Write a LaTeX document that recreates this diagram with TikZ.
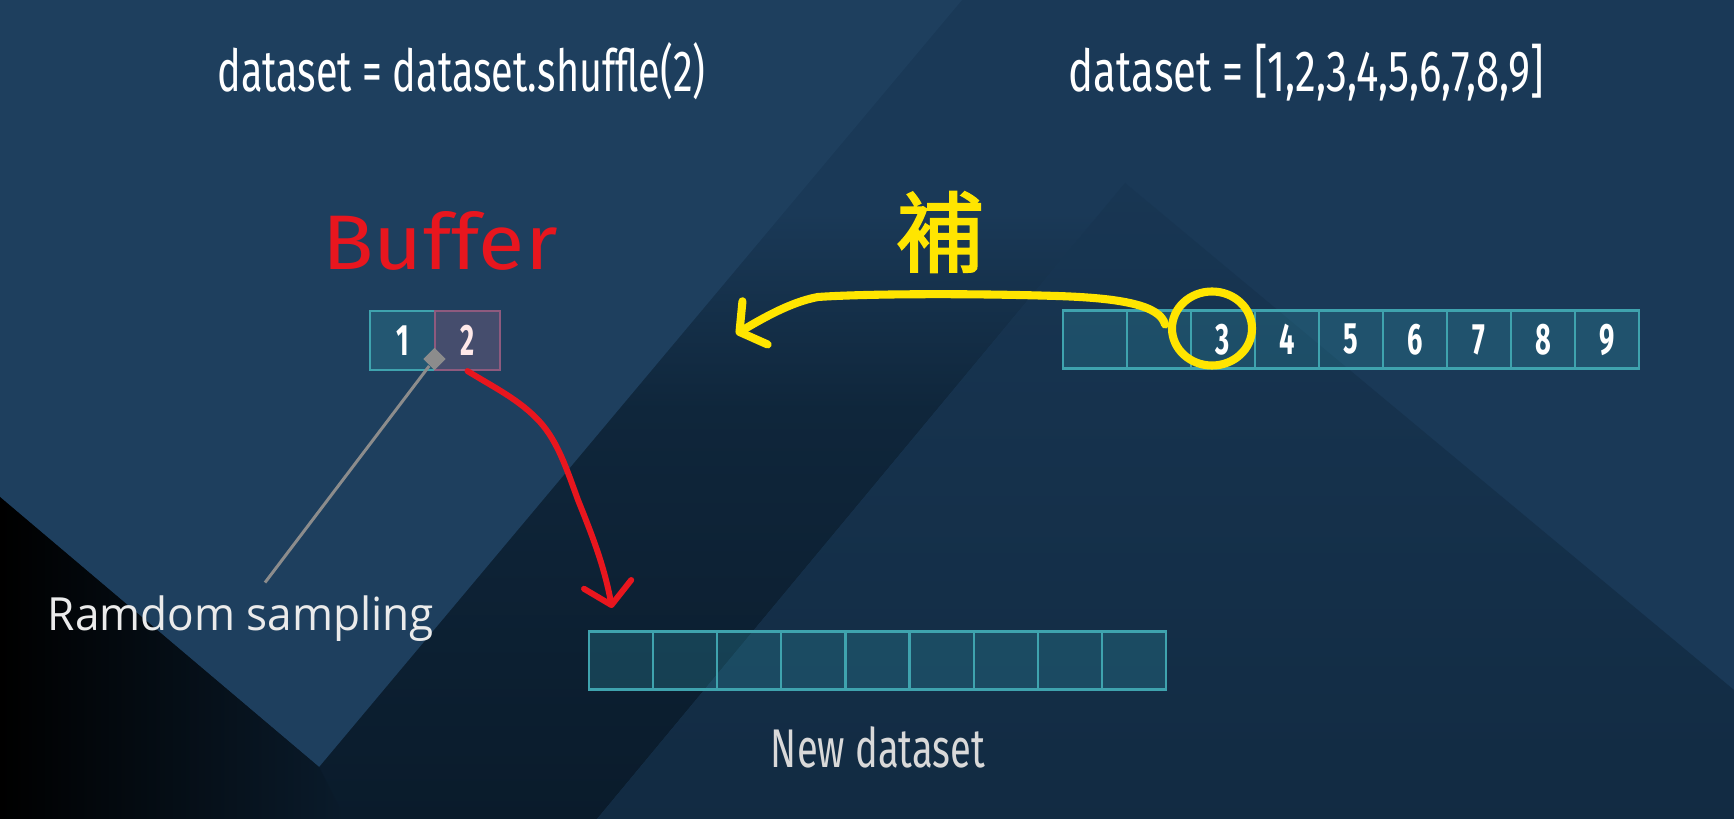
\documentclass[tikz,border=0pt]{standalone}
\usepackage{fontspec}
\setmainfont{Fira Sans}
\newfontfamily\notesfont{Open Sans}
\newfontfamily\cjkfont{Noto Sans CJK TC}[AutoFakeBold=2]
\usetikzlibrary{arrows.meta, shapes.geometric, calc}
\definecolor{paperbase}{HTML}{1A3957}
\definecolor{paperlight}{HTML}{1E3F5E}
\definecolor{paperdark}{HTML}{0F263B}
\definecolor{paperdeep}{HTML}{0A1B2B}
\definecolor{papermid}{HTML}{183653}
\definecolor{cellline}{HTML}{3FA3AE}
\definecolor{celltint}{HTML}{2F8FA3}
\definecolor{bufline}{HTML}{8E5A7E}
\definecolor{buftint}{HTML}{A07090}
\definecolor{penred}{HTML}{E8161E}
\definecolor{penyellow}{HTML}{FFE500}
\pgfdeclareverticalshading{bandfade}{100bp}{color(0bp)=(paperdeep); color(25bp)=(paperdeep);
  color(50bp)=(paperdark); color(62bp)=(paperbase); color(100bp)=(paperbase)}
\newcommand{\squeezeto}[2]{\resizebox{#1}{\height}{#2}}
\newcommand{\celldigit}[1]{\scalebox{0.62}[1]{#1}}
\tikzset{
  cell/.style={rectangle, draw=cellline, line width=0.6pt, fill=celltint, fill opacity=0.3,
               text opacity=1, minimum width=0.64cm, minimum height=0.58cm, inner sep=0pt,
               text=white, font=\fontsize{12.5}{13}\selectfont\bfseries},
  bufcell/.style={cell, minimum width=0.65cm, minimum height=0.59cm},
  pickcell/.style={bufcell, draw=bufline, fill=buftint, text=pink!35},
  codetxt/.style={text=white, font=\fontsize{16.5}{18}\selectfont, inner sep=0pt},
  lbl/.style={inner sep=0pt},
  pinmark/.style={diamond, fill=black!45, inner sep=0pt, minimum width=0.23cm, minimum height=0.23cm},
  pinline/.style={draw=black!45, line width=0.85pt},
  redpen/.style={draw=penred, line width=1.7pt, line cap=round, line join=round,
                 -{Straight Barb[length=2.1mm, width=4.8mm, round]}},
  yellowpen/.style={draw=penyellow, line width=2.3pt, line cap=round, line join=round},
}
\begin{document}
\begin{tikzpicture}[x=0.01cm, y=-0.01cm]
  \useasboundingbox (0,0) rectangle (1734,819);
  % paper background
  \fill[paperbase] (0,0) rectangle (1734,819);
  \shade[shading=bandfade] (962,0) -- (1282,0) -- (1125,183) -- (597,819) -- (0,819) -- (0,497) -- cycle;
  \fill[paperlight] (0,0) -- (962,0) -- (319,767) -- (0,497) -- cycle;
  \shade[left color=black, right color=paperdeep] (0,497) -- (319,767) -- (345,819) -- (0,819) -- cycle;
  \shade[top color=papermid, bottom color=paperdark!70!papermid]
    (1125,183) -- (1734,690) -- (1734,819) -- (597,819) -- cycle;

  \node[codetxt, anchor=base] (shuf) at (461.5,92) {\squeezeto{4.88cm}{dataset = dataset.shuffle(2)}};
  \node[codetxt, anchor=base] (full) at (1306.5,92) {\squeezeto{4.75cm}{dataset = [1,2,3,4,5,6,7,8,9]}};

  % source dataset
  \foreach \i/\t in {1/{},2/{},3/3,4/4,5/5,6/6,7/7,8/8,9/9}
    \node[cell] (d\i) at ({1031+64*\i},339.5) {\celldigit{\t}};
  % shuffle buffer
  \node[bufcell] (b1) at (402.5,340.5) {\celldigit{1}};
  \node[pickcell] (b2) at (467.5,340.5) {\celldigit{2}};
  \node[lbl, text=penred, font=\fontsize{22}{24}\selectfont, anchor=base] (bufname) at (440,270) {\squeezeto{2.35cm}{Buffer}};
  % output dataset
  \foreach \i in {1,...,9}
    \node[cell] (n\i) at ({557+64.1*\i},660.5) {};
  \node[codetxt, text=black!15, font=\fontsize{15.5}{17}\selectfont, anchor=base] (newname) at (878,767) {\squeezeto{2.14cm}{New dataset}};

  \node[lbl, text=white!92!black, font=\notesfont\fontsize{13}{15}\selectfont, anchor=base] (sample) at (241,630) {\squeezeto{3.86cm}{Ramdom sampling}};
  \node[pinmark] (pin) at (434.5,359) {};
  \draw[pinline] (pin) -- ($(sample.north)+(24,-12)$);

  % refill from the source
  \node[lbl, text=penyellow, font=\cjkfont\bfseries\fontsize{25}{27}\selectfont] (refill) at (940,232) {補};
  \coordinate (refilltip) at (736,334);
  \draw[yellowpen, -{Straight Barb[length=1.8mm, width=5mm, round]}] ($(d2.center)+(6,-15)$)
    .. controls (1160,305) and (1120,298) .. (1057,296)
    .. controls (960,293) and (860,294) .. (818,297)
    .. controls (790,302) and (760,320) .. (refilltip);
  \draw[yellowpen] ($(d3.center)+(-11,-11)$) ellipse [x radius=40, y radius=37];

  % picked element
  \coordinate (picktip) at (612,608);
  \draw[redpen] (b2.south) .. controls (495,388) and (520,400) .. (540,422)
    .. controls (558,442) and (567,470) .. (578,500)
    .. controls (592,535) and (604,565) .. (picktip);
\end{tikzpicture}
\end{document}
